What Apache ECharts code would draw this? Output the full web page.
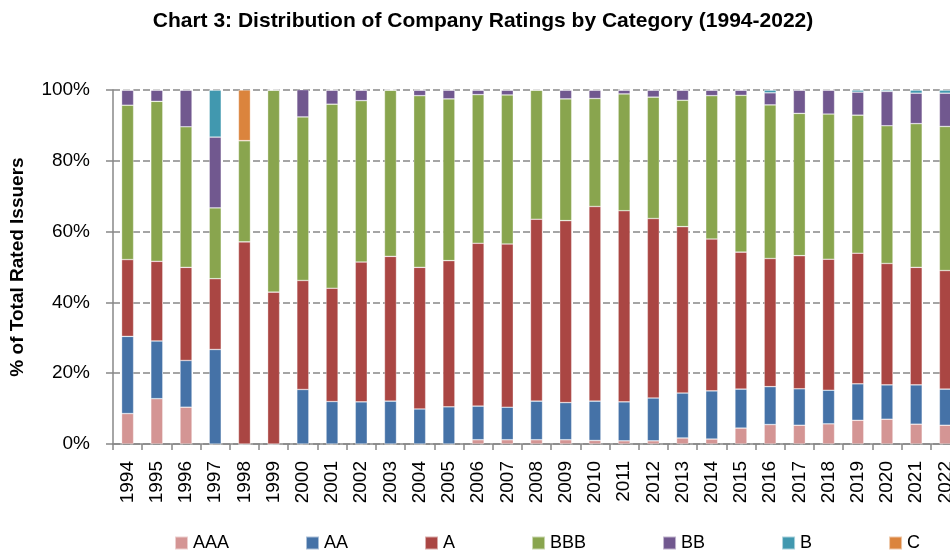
<!DOCTYPE html>
<html>
<head>
<meta charset="utf-8">
<title>Chart 3</title>
<script src="https://cdn.jsdelivr.net/npm/echarts@6/dist/echarts.min.js"></script>
<style>
  html, body { margin: 0; padding: 0; background: #fff; }
  #chart { width: 950px; height: 553px; }
</style>
</head>
<body>
<div id="chart"></div>
<script>
const years = ['1994','1995','1996','1997','1998','1999','2000','2001','2002','2003',
  '2004','2005','2006','2007','2008','2009','2010','2011','2012','2013',
  '2014','2015','2016','2017','2018','2019','2020','2021','2022'];

// % of rated issuers per rating
const aaa = [8.6,12.8,10.4,0,0,0,0,0,0,0,0,0,1.2,1.2,1.2,1.2,1.0,0.9,0.9,1.7,1.4,4.5,5.5,5.3,5.7,6.7,7.0,5.6,5.3];
const aa  = [21.8,16.3,13.2,26.7,0,0,15.4,12,11.9,12.1,9.9,10.5,9.5,9.2,10.9,10.5,11.1,11.0,12.1,12.7,13.6,11.0,10.7,10.3,9.5,10.3,9.7,11.1,10.2];
const a   = [21.7,22.5,26.3,20,57.1,42.9,30.8,32,39.5,40.9,40.0,41.3,46.0,46.1,51.4,51.4,55.0,54.0,50.7,47.0,42.9,38.7,36.2,37.6,37.0,36.9,34.3,33.2,33.5];
const bbb = [43.6,45.2,39.7,20,28.6,57.1,46.2,52,45.6,47.0,48.5,45.7,42.0,42.1,36.5,34.4,30.5,33.0,34.3,35.7,40.5,44.3,43.4,40.2,41.0,39.0,38.9,40.6,40.7];
const bb  = [4.3,3.2,10.4,20,0,0,7.7,4,3.0,0,1.6,2.5,1.3,1.4,0,2.5,2.4,1.1,2.0,2.9,1.6,1.5,3.4,6.6,6.8,6.5,9.7,8.6,9.4];
const b   = [0,0,0,13.3,0,0,0,0,0,0,0,0,0,0,0,0,0,0,0,0,0,0,0.8,0,0,0.6,0.4,0.9,0.9];
const c   = [0,0,0,0,14.3,0,0,0,0,0,0,0,0,0,0,0,0,0,0,0,0,0,0,0,0,0,0,0,0];

const ratings = ['AAA','AA','A','BBB','BB','B','C'];
const values = [aaa, aa, a, bbb, bb, b, c];
const colors = ['#D49594','#4572A7','#AA4643','#89A54E','#71588F','#4198AF','#DB843D'];

const font = "'Liberation Sans', Arial, sans-serif";

const chart = echarts.init(document.getElementById('chart'));

const option = {
  animation: false,
  textStyle: { fontFamily: font },
  title: {
    text: 'Chart 3: Distribution of Company Ratings by Category (1994-2022)',
    left: 478,
    textAlign: 'center',
    top: 6,
    textStyle: { fontSize: 21, fontWeight: 'bold', color: '#000', fontFamily: font }
  },
  legend: {
    data: ratings,
    left: 169,
    top: 529,
    itemWidth: 13,
    itemHeight: 13,
    itemGap: 76,
    icon: 'rect',
    textStyle: { fontSize: 18, color: '#000', fontFamily: font }
  },
  grid: {
    left: 113,
    right: -10,
    top: 90,
    bottom: 109,
    outerBoundsMode: 'none'
  },
  xAxis: {
    type: 'category',
    data: years,
    axisLine: { lineStyle: { color: '#888', width: 1.5 } },
    axisTick: { show: true, length: 6, alignWithLabel: false, lineStyle: { color: '#888', width: 1.5 } },
    axisLabel: { rotate: 90, interval: 0, margin: 17, fontSize: 19, color: '#000' }
  },
  yAxis: {
    type: 'value',
    min: 0,
    max: 100,
    interval: 20,
    name: '% of Total Rated Issuers',
    nameLocation: 'middle',
    nameGap: 86,
    nameTextStyle: { fontSize: 19, fontWeight: 'bold', color: '#000' },
    axisLine: { show: true, lineStyle: { color: '#888', width: 1.5 } },
    axisTick: { show: true, length: 7, lineStyle: { color: '#888', width: 1.5 } },
    axisLabel: { formatter: '{value}%', fontSize: 19, color: '#000', margin: 23 },
    splitLine: { lineStyle: { color: '#888', width: 1.5, type: [7, 3] } }
  },
  series: ratings.map((name, i) => ({
    name: name,
    type: 'bar',
    stack: 'total',
    barWidth: 12,
    data: values[i],
    itemStyle: { color: colors[i], borderColor: 'rgba(255,255,255,0.55)', borderWidth: 0.6 }
  }))
};

chart.setOption(option);
</script>
</body>
</html>
